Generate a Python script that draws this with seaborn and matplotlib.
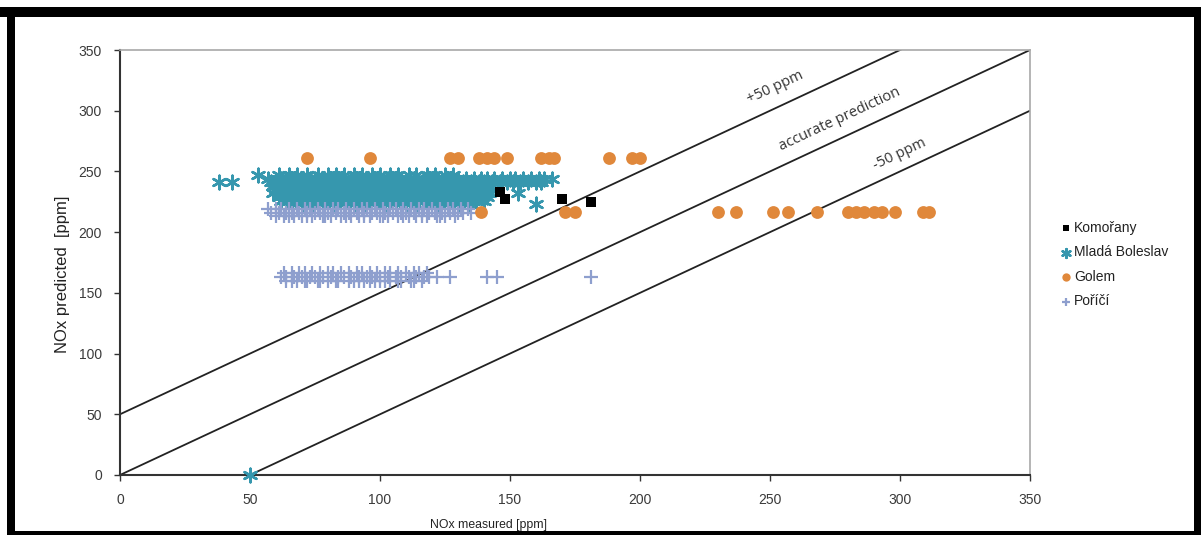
import matplotlib as mpl
import matplotlib.pyplot as plt
import pandas as pd
import seaborn as sns
from matplotlib.patches import Rectangle

# NOx predicted vs measured, by site
komorany_x = [146, 148, 170, 181]
komorany_y = [233, 227, 227, 225]

# Mlada Boleslav: dense band of predictions, one list per prediction level
mlada_247_x = [53, 61, 65, 68, 72, 76, 80, 83, 86, 90, 93, 97, 100, 104, 107, 111, 114, 118, 121, 125, 128]
mlada_244_x = [57, 62, 64, 67, 70, 73, 75, 78, 81, 84, 86, 89, 92, 95, 97, 100, 103, 106, 108, 111, 114,
               117, 119, 122, 125, 128, 130, 133, 136, 139, 141, 144, 147, 150, 152, 155, 158, 161, 163, 166]
mlada_241_x = [38, 43, 58, 61, 63, 66, 69, 72, 74, 77, 80, 83, 85, 88, 91, 94, 96, 99, 102, 105, 107, 110,
               113, 116, 118, 121, 124, 127, 129, 132, 135, 138, 140, 143, 146, 149, 151, 154, 157, 160, 162]
mlada_238_x = [59, 62, 65, 67, 70, 73, 76, 78, 81, 84, 87, 89, 92, 95, 98, 100, 103, 106, 109, 111, 114,
               117, 120, 122, 125, 128, 131, 133, 136, 139, 142]
mlada_235_x = [60, 63, 66, 68, 71, 74, 77, 79, 82, 85, 88, 90, 93, 96, 99, 101, 104, 107, 110, 112, 115,
               118, 121, 123, 126, 129, 132, 134, 137, 140, 143]
mlada_232_x = [59, 62, 64, 67, 70, 73, 75, 78, 81, 84, 86, 89, 92, 95, 97, 100, 103, 106, 108, 111, 114,
               117, 119, 122, 125, 128, 130, 133, 136, 139, 142, 153]
mlada_229_x = [61, 64, 66, 69, 72, 75, 77, 80, 83, 86, 88, 91, 94, 97, 99, 102, 105, 108, 110, 113, 116,
               119, 121, 124, 127, 130, 132, 135, 138, 141]
mlada_226_x = [62, 65, 68, 71, 73, 76, 79, 82, 84, 87, 90, 93, 95, 98, 101, 104, 106, 109, 112, 115, 117,
               120, 123, 126, 128, 131, 134, 137, 140]
mlada_223_x = [66, 70, 74, 78, 82, 86, 90, 94, 98, 102, 106, 110, 114, 118, 122, 126, 130, 134, 160]
mlada_zero_x = [50]

golem_x = [72, 96, 127, 130, 138, 141, 144, 149, 162, 165, 167, 188, 197, 200,
           139, 171, 175, 230, 237, 251, 257, 268, 280, 283, 286, 290, 293, 298, 309, 311]
golem_y = [261, 261, 261, 261, 261, 261, 261, 261, 261, 261, 261, 261, 261, 261,
           217, 217, 217, 217, 217, 217, 217, 217, 217, 217, 217, 217, 217, 217, 217, 217]

# Porici: two prediction levels
porici_219_x = [57, 60, 62, 65, 68, 71, 73, 76, 79, 82, 84, 87, 90, 93, 95, 98, 101, 104, 106, 109, 112,
                115, 117, 120, 123, 126, 128, 131, 134]
porici_216_x = [58, 61, 64, 66, 69, 72, 75, 77, 80, 83, 86, 88, 91, 94, 97, 99, 102, 105, 108, 110, 113,
                116, 119, 121, 124, 127, 130, 132, 135]
porici_213_x = [60, 63, 65, 67, 70, 72, 74, 78, 79, 81, 85, 87, 89, 92, 94, 96, 100, 101, 103, 107, 109,
                111, 114, 116, 118, 122, 123, 125, 129]
porici_166_x = [63, 66, 69, 71, 74, 77, 80, 82, 85, 88, 91, 93, 96, 99, 102, 104, 107, 110, 113, 115, 118]
porici_163_x = [62, 64, 67, 70, 73, 75, 78, 81, 84, 86, 89, 92, 95, 97, 100, 103, 106, 108, 111, 114, 117,
                119, 122, 127, 141, 145, 181]
porici_160_x = [64, 66, 68, 71, 72, 76, 77, 80, 83, 84, 88, 90, 92, 94, 96, 98, 100, 102, 104, 107, 108,
                112, 113, 116]

ticks = [0, 50, 100, 150, 200, 250, 300, 350]
ref_offsets = [50, 0, -50]
ref_labels = ['+50 ppm', 'accurate prediction', '-50 ppm']
ref_label_pos = [(252, 319), (277, 293), (300, 264)]

teal = '#3697ae'
lavender = '#8e9fce'
orange = '#e0883b'


def rows(levels):
    xs, ys = [], []
    for y, xlist in levels:
        xs += xlist
        ys += [y] * len(xlist)
    return pd.DataFrame({'x': xs, 'y': ys})


mlada = rows([(247, mlada_247_x), (244, mlada_244_x), (241, mlada_241_x), (238, mlada_238_x),
              (235, mlada_235_x), (232, mlada_232_x), (229, mlada_229_x), (226, mlada_226_x),
              (223, mlada_223_x), (0, mlada_zero_x)])
porici = rows([(219, porici_219_x), (216, porici_216_x), (213, porici_213_x),
               (166, porici_166_x), (163, porici_163_x), (160, porici_160_x)])
golem = pd.DataFrame({'x': golem_x, 'y': golem_y})
komorany = pd.DataFrame({'x': komorany_x, 'y': komorany_y})

sns.set_style('white')
plt.rcParams['font.family'] = ['Liberation Sans', 'DejaVu Sans']

fig = plt.figure(figsize=(12.01, 5.35), dpi=100)
ax = fig.add_axes([120 / 1201, 60 / 535, 910 / 1201, 425 / 535])

asterisk = (6, 2, 0)
sns.scatterplot(data=mlada, x='x', y='y', ax=ax, marker=asterisk, s=95, color=teal,
                linewidth=1.8, label='Mladá Boleslav', zorder=3, clip_on=False)
sns.scatterplot(data=porici, x='x', y='y', ax=ax, marker='+', s=90, color=lavender,
                linewidth=1.6, label='Poříčí', zorder=4)
sns.scatterplot(data=golem, x='x', y='y', ax=ax, marker='o', s=85, color=orange,
                linewidth=0, label='Golem', zorder=5)
sns.scatterplot(data=komorany, x='x', y='y', ax=ax, marker='s', s=45, color='black',
                linewidth=0, label='Komořany', zorder=6)

for off in ref_offsets:
    ax.plot([0, 350], [off, 350 + off], color='#222222', lw=1.3, zorder=2)
for text, (tx, ty) in zip(ref_labels, ref_label_pos):
    ax.text(tx, ty, text, rotation=25, ha='center', va='center', fontsize=10.5,
            family=['Open Sans', 'DejaVu Sans'], color='#333333', rotation_mode='anchor')

ax.set_xlim(0, 350)
ax.set_ylim(0, 350)
ax.set_xticks(ticks)
ax.set_yticks(ticks)
ax.tick_params(axis='both', direction='out', length=4, width=1, color='#333333',
               labelsize=10, labelcolor='#3a3a3a', pad=9, bottom=True, left=True)
for side in ['left', 'bottom']:
    ax.spines[side].set_color('#333333')
    ax.spines[side].set_linewidth(1.5)
for side in ['top', 'right']:
    ax.spines[side].set_color('#a8a8a8')
    ax.spines[side].set_linewidth(1.2)

ax.set_xlabel('NOx measured [ppm]', fontsize=8.8, color='#222222')
ax.xaxis.set_label_coords(369 / 910, -44 / 425)
ax.set_ylabel('NOx predicted  [ppm]', fontsize=12, color='#222222')
ax.yaxis.set_label_coords(-50 / 910, 201 / 425)

handles, labels = ax.get_legend_handles_labels()
order = ['Komořany', 'Mladá Boleslav', 'Golem', 'Poříčí']
hmap = dict(zip(labels, handles))
ax.legend([hmap[k] for k in order], order, loc='upper left',
          bbox_to_anchor=(1052 / 1201, 1 - 214 / 535), bbox_transform=fig.transFigure,
          frameon=False, fontsize=10, handletextpad=0.1, handlelength=1.0,
          labelspacing=0.75, markerscale=0.65, borderpad=0, labelcolor='#222222')

# black picture frame
for x0, y0, w, h in [(0, 518, 1201, 10), (7, 0, 8, 528), (1194, 0, 7, 528), (7, 0, 1194, 4)]:
    fig.add_artist(Rectangle((x0 / 1201, y0 / 535), w / 1201, h / 535, transform=fig.transFigure,
                             facecolor='black', edgecolor='none'))

fig.savefig('out.png', dpi=100)
